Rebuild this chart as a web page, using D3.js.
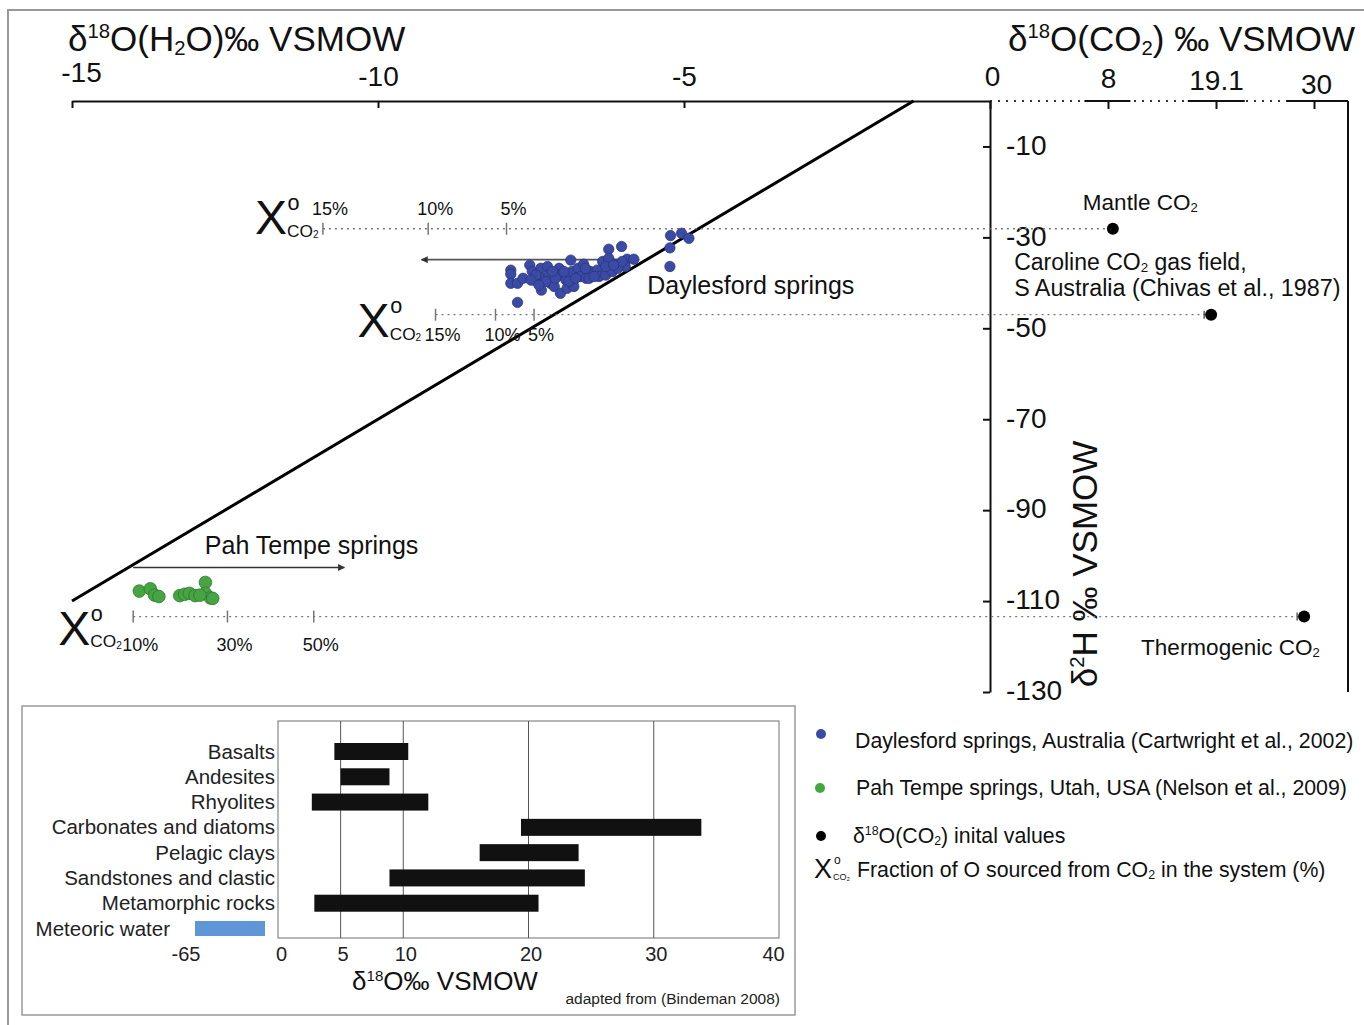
<!DOCTYPE html>
<html>
<head>
<meta charset="utf-8">
<script src="https://cdn.jsdelivr.net/npm/d3@7"></script>
<style>
  body { margin: 0; background: #fff; }
  svg { font-family: "Liberation Sans", Arial, sans-serif; }
</style>
</head>
<body>
<svg width="1364" height="1025"></svg>
<script>
// ---- data ----
// Daylesford springs [d18O(H2O), d2H]
const daylesford = [
  [-5.22, -29.6], [-5.04, -29.1], [-4.92, -30.2], [-5.23, -32.3], [-5.23, -36.4],
  [-6.23, -32.6], [-6.02, -32.0], [-5.93, -34.8], [-5.82, -34.8], [-6.33, -35.3],
  [-6.23, -34.6], [-6.12, -35.9], [-5.96, -36.4], [-7.83, -37.2], [-7.83, -38.1],
  [-7.83, -40.1], [-7.72, -40.1], [-7.72, -44.3], [-7.63, -39.0], [-7.52, -36.1],
  [-7.48, -37.5], [-7.45, -39.4], [-7.34, -36.8], [-7.33, -41.6], [-7.32, -39.0],
  [-7.23, -36.4], [-7.21, -38.3], [-7.18, -40.1], [-7.12, -40.8], [-7.04, -36.8],
  [-7.02, -38.3], [-7.02, -42.3], [-6.93, -39.4], [-6.91, -41.2], [-6.85, -35.0],
  [-6.83, -37.5], [-6.80, -40.8], [-6.73, -36.8], [-6.69, -38.6], [-6.64, -35.9],
  [-6.60, -39.0], [-6.53, -37.5], [-6.42, -37.2], [-6.39, -38.6], [-6.28, -38.3],
  [-6.17, -37.5], [-6.08, -36.8], [-6.01, -35.3], [-7.42, -38.3], [-7.26, -39.7],
  [-7.10, -39.0], [-6.88, -39.7], [-6.77, -39.0], [-6.55, -39.0], [-6.47, -38.6],
  [-6.28, -36.4], [-6.15, -36.1], [-7.50, -39.4], [-7.37, -40.5], [-7.15, -37.5],
  [-6.96, -37.5], [-6.61, -36.8]
];
// Pah Tempe springs [d18O(H2O), d2H]
const pahTempe = [
  [-13.90, -107.8], [-13.72, -107.3], [-13.65, -108.7], [-13.58, -109.0], [-13.24, -108.8],
  [-13.16, -108.5], [-13.08, -108.3], [-12.99, -108.8], [-12.82, -105.9], [-12.82, -108.3],
  [-12.74, -109.3], [-12.91, -108.7], [-12.70, -109.4]
];
// CO2 end members: d18O(CO2), d2H
const co2Sources = [
  { name: "mantle", o: 8.5, h: -28.1 },
  { name: "caroline", o: 18.6, h: -47.0 },
  { name: "thermogenic", o: 28.9, h: -113.4 }
];
// X(O,CO2) mixing scales: tick positions on d18O(H2O) axis
const xcoUpper = [{ p: "15%", o: -10.9 }, { p: "10%", o: -9.18 }, { p: "5%", o: -7.90 }];
const xcoLower = [{ p: "15%", o: -9.06 }, { p: "10%", o: -8.08 }, { p: "5%", o: -7.45 }];
const xcoPah = [{ p: "10%", o: -14.0 }, { p: "30%", o: -12.46 }, { p: "50%", o: -11.05 }];
// arrows [from d18O, to d18O, d2H]
const arrowDaylesford = [-5.73, -9.29, -34.9];
const arrowPah = [-14.0, -10.55, -102.6];

const h2oTicks = [-15, -10, -5];
const co2Ticks = [0, 8, 19.1, 30];
const d2hTicks = [-10, -30, -50, -70, -90, -110, -130];

// meteoric water line d2H = 8 * d18O + 10
const gmwl = [-15, -1.25];

// inset: d18O ranges of rocks
const rocks = ["Basalts", "Andesites", "Rhyolites", "Carbonates and diatoms",
  "Pelagic clays", "Sandstones and clastic", "Metamorphic rocks", "Meteoric water"];
const rockMin = [4.5, 5.0, 2.7, 19.4, 16.1, 8.9, 2.9, -65];
const rockMax = [10.4, 8.9, 12.0, 33.8, 24.0, 24.5, 20.8, 0];
const insetTicks = [0, 5, 10, 20, 30, 40];
const insetGrid = [5, 10, 20, 30];

// ---- helpers ----
const svg = d3.select("svg");

function rich(sel, x, y, parts, size, anchor) {
  const t = sel.append("text").attr("x", x).attr("y", y)
    .attr("font-size", size).attr("text-anchor", anchor || "start").attr("fill", "#111");
  let shift = 0;
  parts.forEach(p => {
    const s = typeof p === "string" ? p : p[0];
    const kind = typeof p === "string" ? null : p[1];
    const target = kind === "sup" ? -size * 0.36 : kind === "sub" ? size * 0.1 : 0;
    t.append("tspan").attr("dy", target - shift)
      .attr("font-size", kind ? size * 0.58 : size).text(s);
    shift = target;
  });
  return t;
}

function xLabel(sel, x, y, big) {
  sel.append("text").attr("x", x).attr("y", y).attr("font-size", big).attr("fill", "#111").text("X");
  sel.append("text").attr("x", x + big * 0.68).attr("y", y - big * 0.5)
    .attr("font-size", big * 0.45).attr("fill", "#111").text("o");
  rich(sel, x + big * 0.67, y + big * 0.06, ["CO", ["2", "sub"]], big * 0.36);
}

// frame
svg.append("path").attr("d", "M8,1025 V10 H1364").attr("fill", "none")
  .attr("stroke", "#999").attr("stroke-width", 2);

// ---- scales ----
const xH = d3.scaleLinear().domain([-15, 0]).range([72, 990]);
const yH = d3.scaleLinear().domain([0, -130]).range([101, 692]);
const xC = d3.scaleLinear().domain([0, 8, 19.1, 30, 33]).range([990, 1108, 1216, 1314, 1348]);

const main = svg.append("g");

// top H2O axis
const axH = main.append("g").attr("transform", `translate(0,${yH(0)})`)
  .call(d3.axisTop(xH).tickValues(h2oTicks).tickSize(-7).tickSizeOuter(0)
    .tickPadding(15).tickFormat(d => String(d)));
axH.selectAll("path,line").attr("stroke", "#111").attr("stroke-width", 2);
axH.selectAll("text").attr("font-size", 28).attr("fill", "#111")
  .attr("font-family", "Liberation Sans, Arial, sans-serif")
  .attr("dx", d => d === -15 ? 9 : 0).attr("dy", d => d === -15 ? -4 : 0);

// top CO2 axis (broken)
const yTop = yH(0);
main.append("line").attr("x1", xC(0)).attr("x2", xC(33)).attr("y1", yTop).attr("y2", yTop)
  .attr("stroke", "#333").attr("stroke-width", 2).attr("stroke-dasharray", "2,6");
[[6.4, 10.3], [16.2, 22.3], [27, 33]].forEach(s => {
  main.append("line").attr("x1", xC(s[0])).attr("x2", xC(s[1])).attr("y1", yTop).attr("y2", yTop)
    .attr("stroke", "#111").attr("stroke-width", 2);
});
const axC = main.append("g").attr("transform", `translate(0,${yTop})`)
  .call(d3.axisTop(xC).tickValues(co2Ticks).tickSize(-8).tickSizeOuter(0)
    .tickPadding(15).tickFormat(d => String(d)));
axC.select(".domain").remove();
axC.selectAll("line").attr("stroke", "#111").attr("stroke-width", 2);
axC.selectAll("text").attr("font-size", 28).attr("fill", "#111")
  .attr("font-family", "Liberation Sans, Arial, sans-serif")
  .attr("dx", d => d === 0 ? 2 : d === 30 ? 2 : 0)
  .attr("dy", d => d === 0 ? 0 : d === 8 ? 2 : d === 19.1 ? 4 : 8);

// right border
main.append("line").attr("x1", xC(33)).attr("x2", xC(33)).attr("y1", yTop).attr("y2", yH(-130))
  .attr("stroke", "#111").attr("stroke-width", 2);

// vertical d2H axis
const axY = main.append("g").attr("transform", `translate(${xH(0)},0)`)
  .call(d3.axisRight(yH).tickValues(d2hTicks).tickSize(-7).tickSizeOuter(0)
    .tickPadding(16).tickFormat(d => String(d)));
axY.selectAll("path,line").attr("stroke", "#111").attr("stroke-width", 2);
axY.selectAll("text").attr("font-size", 28).attr("fill", "#111")
  .attr("font-family", "Liberation Sans, Arial, sans-serif").attr("dy", "0.28em");

// titles
rich(main, 68, 51, ["δ", ["18", "sup"], "O(H", ["2", "sub"], "O)‰ VSMOW"], 35);
rich(main, 1355, 51, ["δ", ["18", "sup"], "O(CO", ["2", "sub"], ") ‰ VSMOW"], 35, "end");
rich(main.append("g").attr("transform", "translate(1097,564) rotate(-90)"), 0, 0,
  ["δ", ["2", "sup"], "H ‰ VSMOW"], 35, "middle");

// meteoric water line
main.append("line")
  .attr("x1", xH(gmwl[0])).attr("y1", yH(8 * gmwl[0] + 10))
  .attr("x2", xH(gmwl[1])).attr("y2", yH(8 * gmwl[1] + 10))
  .attr("stroke", "#000").attr("stroke-width", 3);

// mixing scales (dotted lines to CO2 end members)
function mixScale(ticks, src, labelDy, xOff, xDy) {
  const y = yH(src.h);
  main.append("line").attr("x1", xH(ticks[0].o)).attr("x2", xC(src.o))
    .attr("y1", y).attr("y2", y)
    .attr("stroke", "#777").attr("stroke-width", 1.3).attr("stroke-dasharray", "2,4");
  main.selectAll(null).data(ticks).enter().append("line")
    .attr("x1", d => xH(d.o)).attr("x2", d => xH(d.o))
    .attr("y1", y - 6).attr("y2", y + 6)
    .attr("stroke", "#777").attr("stroke-width", 1.5);
  main.selectAll(null).data(ticks).enter().append("text")
    .attr("x", d => xH(d.o) + 7).attr("y", y + labelDy)
    .attr("text-anchor", "middle").attr("font-size", 18).attr("fill", "#111")
    .text(d => d.p);
  xLabel(main, xH(ticks[0].o) + xOff, y + xDy, 48);
}
mixScale(xcoUpper, co2Sources[0], -14, -68, 5);
mixScale(xcoLower, co2Sources[1], 26, -78, 22);
mixScale(xcoPah, co2Sources[2], 34, -75, 28);

// arrows
const defs = svg.append("defs");
defs.append("marker").attr("id", "ah").attr("viewBox", "0 0 10 10")
  .attr("refX", 9).attr("refY", 5).attr("markerWidth", 9).attr("markerHeight", 7)
  .attr("markerUnits", "userSpaceOnUse").attr("orient", "auto")
  .append("path").attr("d", "M0,0 L10,5 L0,10 z").attr("fill", "#333");
[arrowDaylesford, arrowPah].forEach((a, i) => {
  main.append("line").attr("x1", xH(a[0])).attr("x2", xH(a[1]))
    .attr("y1", yH(a[2])).attr("y2", yH(a[2]))
    .attr("stroke", i === 0 ? "#555" : "#333").attr("stroke-width", 1.6)
    .attr("marker-end", "url(#ah)");
});

// data points
main.append("g").selectAll("circle").data(daylesford).enter().append("circle")
  .attr("cx", d => xH(d[0])).attr("cy", d => yH(d[1])).attr("r", 5.2)
  .attr("fill", "#3b4aa4").attr("stroke", "#28337a").attr("stroke-width", 0.7);
main.append("g").selectAll("circle").data(pahTempe).enter().append("circle")
  .attr("cx", d => xH(d[0])).attr("cy", d => yH(d[1])).attr("r", 6.3)
  .attr("fill", "#46a443").attr("stroke", "#2d7a2d").attr("stroke-width", 0.8);

// CO2 end members
main.selectAll(null).data(co2Sources.slice(1)).enter().append("line")
  .attr("x1", d => xC(d.o) - 7).attr("x2", d => xC(d.o) - 7)
  .attr("y1", d => yH(d.h) - 4).attr("y2", d => yH(d.h) + 4)
  .attr("stroke", "#333").attr("stroke-width", 1.2);
main.selectAll(null).data(co2Sources).enter().append("circle")
  .attr("cx", d => xC(d.o)).attr("cy", d => yH(d.h)).attr("r", 6).attr("fill", "#000");

// annotations
const m = co2Sources[0], c = co2Sources[1], t = co2Sources[2];
rich(main, xC(m.o) - 30, yH(m.h) - 19, ["Mantle CO", ["2", "sub"]], 22.5);
rich(main, xC(c.o) - 197, yH(c.h) - 45, ["Caroline CO", ["2", "sub"], " gas field,"], 23);
rich(main, xC(c.o) - 197, yH(c.h) - 19, ["S Australia (Chivas et al., 1987)"], 23.3);
rich(main, xC(t.o) - 163, yH(t.h) + 38, ["Thermogenic CO", ["2", "sub"]], 22.5);
rich(main, xH(-5.73) + 8, yH(-42.5), ["Daylesford springs"], 25);
rich(main, xH(-12.83), yH(-99.6), ["Pah Tempe springs"], 25);

// ---- inset ----
const ins = svg.append("g");
ins.append("rect").attr("x", 22).attr("y", 706).attr("width", 773).attr("height", 309)
  .attr("fill", "none").attr("stroke", "#999").attr("stroke-width", 1.5);

const xI = d3.scaleLinear().domain([0, 40]).range([278, 779]);
const xM = d3.scaleLinear().domain([-65, 0]).range([195, 265]);
const yI = d3.scalePoint().domain(rocks).range([751.5, 928.5]);
const iTop = 721, iBot = 938;

ins.append("rect").attr("x", xI(0)).attr("y", iTop).attr("width", xI(40) - xI(0))
  .attr("height", iBot - iTop).attr("fill", "none").attr("stroke", "#888").attr("stroke-width", 1.2);
ins.selectAll(null).data(insetGrid).enter().append("line")
  .attr("x1", d => xI(d)).attr("x2", d => xI(d)).attr("y1", iTop).attr("y2", iBot)
  .attr("stroke", "#555").attr("stroke-width", 1);

const axI = ins.append("g").attr("transform", `translate(0,${iBot})`)
  .call(d3.axisBottom(xI).tickValues(insetTicks).tickSize(0).tickPadding(9).tickFormat(d => String(d)));
axI.select(".domain").remove();
axI.selectAll("text").attr("font-size", 20).attr("fill", "#222")
  .attr("font-family", "Liberation Sans, Arial, sans-serif")
  .attr("dx", d => d === 0 ? 3 : d === 40 ? -6 : 2);

const rockData = rocks.map((r, i) => ({ r, lo: rockMin[i], hi: rockMax[i] }));
ins.selectAll(null).data(rockData).enter().append("rect")
  .attr("x", d => d.r === "Meteoric water" ? xM(d.lo) : xI(d.lo))
  .attr("width", d => d.r === "Meteoric water" ? xM(d.hi) - xM(d.lo) : xI(d.hi) - xI(d.lo))
  .attr("y", d => yI(d.r) - (d.r === "Meteoric water" ? 7.5 : 8.5))
  .attr("height", d => d.r === "Meteoric water" ? 15 : 17)
  .attr("fill", d => d.r === "Meteoric water" ? "#5f96d8" : "#111");
ins.selectAll(null).data(rockData).enter().append("text")
  .attr("x", d => d.r === "Meteoric water" ? xM(-65) - 25 : xI(0) - 3)
  .attr("y", d => yI(d.r) + 7)
  .attr("text-anchor", "end").attr("font-size", 20.5).attr("fill", "#222")
  .text(d => d.r);
ins.append("text").attr("x", xM(-65) - 9).attr("y", 961).attr("text-anchor", "middle")
  .attr("font-size", 20).attr("fill", "#222").text("-65");

rich(ins, 445, 990, ["δ", ["18", "sup"], "O‰ VSMOW"], 26, "middle");
ins.append("text").attr("x", 780).attr("y", 1004).attr("text-anchor", "end")
  .attr("font-size", 15.5).attr("fill", "#222").text("adapted from (Bindeman 2008)");

// ---- legend ----
const lg = svg.append("g");
lg.append("circle").attr("cx", 821).attr("cy", 734).attr("r", 5).attr("fill", "#3b4aa4");
rich(lg, 855, 748, ["Daylesford springs, Australia (Cartwright et al., 2002)"], 21.3);
lg.append("circle").attr("cx", 820).attr("cy", 788).attr("r", 5).attr("fill", "#46a443");
rich(lg, 856, 795, ["Pah Tempe springs, Utah, USA (Nelson et al., 2009)"], 21.3);
lg.append("circle").attr("cx", 821).attr("cy", 836).attr("r", 5).attr("fill", "#000");
rich(lg, 853, 843, ["δ", ["18", "sup"], "O(CO", ["2", "sub"], ") inital values"], 21.3);
lg.append("text").attr("x", 814).attr("y", 878).attr("font-size", 27).attr("fill", "#111").text("X");
lg.append("text").attr("x", 834).attr("y", 864).attr("font-size", 12).attr("fill", "#111").text("o");
lg.append("text").attr("x", 833).attr("y", 880).attr("font-size", 9).attr("fill", "#111").text("CO₂");
rich(lg, 857, 877, ["Fraction of O sourced from CO", ["2", "sub"], " in the system (%)"], 21.3);
</script>
</body>
</html>
